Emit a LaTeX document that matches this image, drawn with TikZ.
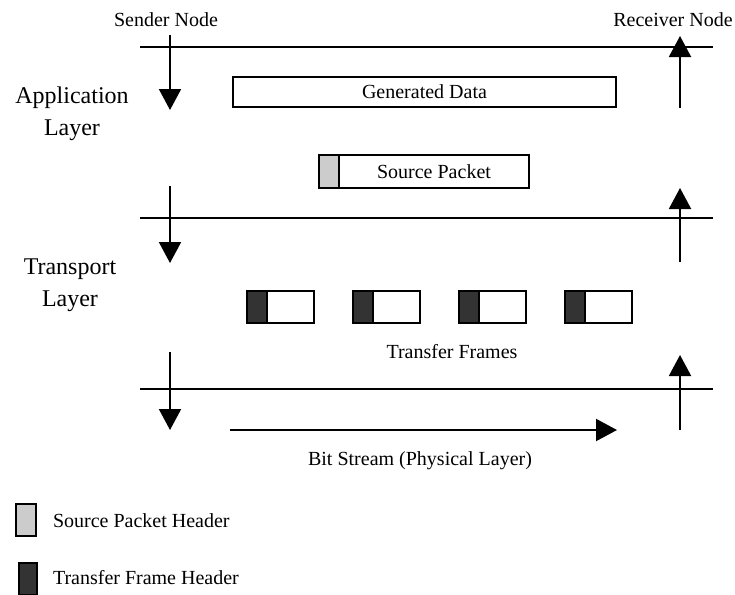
\documentclass[tikz,border=0pt]{standalone}
\usepackage{fontspec}
\setmainfont{Liberation Serif}
\usetikzlibrary{arrows.meta,positioning}

\begin{document}
\begin{tikzpicture}[x=1pt,y=-1pt,line width=2pt,
  lbl/.style={font=\fontsize{20}{24}\selectfont, inner sep=0pt},
  layer/.style={font=\fontsize{24}{32}\selectfont, align=center, inner sep=0pt},
  box/.style={draw, line width=2pt, inner sep=0pt, anchor=west, fill=white},
  hdr/.style={draw, line width=2pt, inner sep=0pt, anchor=west, minimum width=20pt},
  flow/.style={-{Triangle[width=22pt,length=21pt]}}]
\useasboundingbox (0,0) rectangle (735,594);

% node labels
\node[lbl] (snd) at (166,20) {Sender Node};
\node[lbl] (rcv) at (673,20) {Receiver Node};

% layer boundaries
\coordinate (l1a) at (140,47);  \coordinate (l1b) at (713,47);
\coordinate (l2a) at (140,218); \coordinate (l2b) at (713,218);
\coordinate (l3a) at (140,389); \coordinate (l3b) at (713,389);
\draw (l1a) -- (l1b);
\draw (l2a) -- (l2b);
\draw (l3a) -- (l3b);

% down / up arrows
\foreach \t/\b [count=\i] in {35/110, 186/263, 352/430} {
  \coordinate (s\i a) at (170,\t); \coordinate (s\i b) at (170,\b);
  \draw[flow] (s\i a) -- (s\i b);
}
\foreach \t/\b [count=\i] in {36/108, 188/262, 355/430} {
  \coordinate (r\i a) at (680,\b); \coordinate (r\i b) at (680,\t);
  \draw[flow] (r\i a) -- (r\i b);
}

\node[layer] (app) at (72,114) {Application\\Layer};
\node[layer] (trp) at (70,285) {Transport\\Layer};

% application layer
\node[box, minimum width=383pt, minimum height=30pt] (gen) at (232,92) {};
\node[lbl] at (gen.center) {Generated Data};
\node[box, minimum width=210pt, minimum height=33pt] (pkt) at (318,171.5) {};
\node[hdr, minimum height=33pt, fill=black!20] (sph) at (pkt.west) {};
\node[lbl] at ([xshift=10pt]pkt.center) {Source Packet};

% transport layer
\foreach \x [count=\i] in {246,352,458,564} {
  \node[box, minimum width=67pt, minimum height=32pt] (tf\i) at (\x,307) {};
  \node[hdr, minimum height=32pt, fill=black!80] (tfh\i) at (tf\i.west) {};
}
\node[lbl] (tfl) at (452,352) {Transfer Frames};

% physical layer
\coordinate (bsa) at (230,430); \coordinate (bsb) at (617,430);
\draw[flow] (bsa) -- (bsb);
\node[lbl] (bsl) at (420,461) {Bit Stream (Physical Layer)};

% legend
\node[draw, line width=2pt, fill=black!20, minimum width=20pt, minimum height=32pt, inner sep=0pt] (kg) at (25.5,520) {};
\node[lbl, anchor=west] (kgl) at (52,521) {Source Packet Header};
\node[draw, line width=2pt, fill=black!80, minimum width=18pt, minimum height=32pt, inner sep=0pt] (kd) at (27.5,579) {};
\node[lbl, anchor=west] (kdl) at (52,578) {Transfer Frame Header};
\end{tikzpicture}
\end{document}
